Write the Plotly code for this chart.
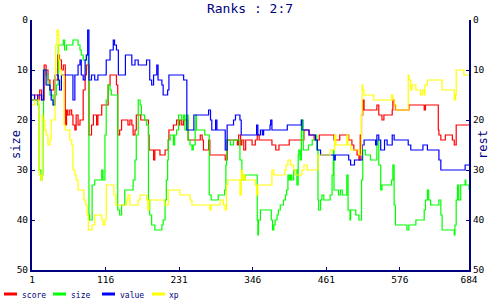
import plotly.graph_objects as go

# ---- data (turn, rank) change points ----
value_x = [1, 5, 10, 16, 19, 23, 29, 31, 34, 37, 42, 44, 47, 63, 65, 68, 73, 76, 78, 81, 84, 86, 88, 90, 94, 99, 104, 117, 123, 128, 130, 133, 136, 147, 151, 157, 162, 167, 180, 185, 188, 191, 196, 198, 204, 206, 213, 215, 238,
           243, 254, 277, 280, 282, 288, 290, 303, 306, 316, 319, 326, 328, 352, 354, 358, 361, 363, 373, 374, 376, 400, 422, 423, 434, 444, 447, 452, 473, 475, 496, 499, 505,
           517, 520, 538, 540, 543, 546, 552, 556, 564, 567, 589, 593, 612, 619, 637, 640, 678, 684]
value_y = [15, 16, 15, 16, 10, 13, 14, 16, 17, 11, 12, 14, 11, 11, 16, 11, 9, 8, 11, 12, 8, 7, 2, 12, 11, 12, 11, 8, 6, 4, 5, 6, 11, 7, 7, 9, 8, 9, 8, 12, 13, 11, 9, 12, 13, 15, 14, 11, 12,
           22, 19, 18, 20, 22, 20, 22, 26, 21, 20, 19, 20, 23, 21, 23, 22, 23, 22, 21, 20, 22, 21, 20, 22, 23, 24, 26, 27, 28, 27, 28, 29, 28,
           25, 24, 25, 23, 24, 26, 24, 25, 23, 24, 25, 26, 25, 26, 28, 30, 29, 29]

score_x = [1, 5, 10, 13, 16, 20, 23, 26, 29, 35, 41, 44, 47, 50, 53, 55, 57, 60, 63, 65, 68, 70, 73, 76, 81, 84, 86, 89, 90, 94, 97, 102, 104, 110, 116, 120, 123, 133, 135, 138, 141, 151, 154, 157, 159, 162, 164, 171,
           183, 184, 191, 193, 201, 209, 214, 215, 222, 227, 230, 232, 235, 238, 245, 258,
           264, 267, 269, 277, 279, 285, 303, 306, 322, 324, 327, 329, 332, 335, 345, 350, 353, 356, 376, 382, 387, 403, 426, 434, 442, 450, 473, 482, 496, 501, 504, 509, 512,
           514, 516, 518, 520, 540, 543, 548, 551, 564, 565, 567, 569, 590, 614, 616, 636, 637, 640, 647, 658, 661, 664, 684]
score_y = [16, 15, 16, 14, 16, 9, 10, 12, 14, 12, 7, 8, 10, 9, 21, 18, 19, 18, 19, 21, 22, 19, 21, 20, 14, 11, 9, 9, 23, 21, 19, 21, 19, 17, 17, 13, 11, 13, 23, 22, 20, 21, 20, 21, 23, 22, 19, 20,
           23, 26, 28, 26, 27, 26, 24, 22, 21, 20, 21, 20, 21, 20, 24, 24,
           23, 24, 26, 24, 27, 27, 28, 24, 25, 23, 25, 24, 26, 24, 25, 24, 23, 24, 25, 26, 25, 24, 22, 23, 24, 23, 24, 23, 24, 25, 26, 27, 28,
           23, 19, 16, 18, 17, 19, 20, 19, 18, 16, 17, 18, 17, 18, 17, 22, 23, 24, 23, 24, 25, 21, 21]

size_x = [1, 10, 12, 15, 17, 18, 19, 23, 26, 29, 34, 37, 39, 42, 50, 52, 55, 65, 73, 76, 78, 81, 86, 89, 90, 91, 95, 99, 110, 112, 115, 117, 120, 123, 125, 135, 138, 141, 146, 159, 162, 164, 167, 170,
          172, 177, 180, 183, 185, 188, 193, 204, 206, 209, 211, 213, 214, 217, 222, 224, 227, 230, 235, 238, 240, 243, 245, 248, 251, 253, 256, 257, 258, 271, 278, 281, 292, 302, 304, 305, 311, 316, 326, 329, 334,
          352, 353, 354, 355, 358, 373, 375, 377, 379, 381, 384, 386, 389, 394, 397, 399, 401, 403, 405, 407, 410, 415, 417, 418, 420, 422, 425, 433, 439, 444, 446, 448, 449, 452, 454, 457, 467, 470, 472, 473, 480, 483, 486, 493, 495, 498, 499, 507, 512,
          516, 518, 522, 530, 540, 543, 546, 548, 563, 565, 567, 569, 587, 590, 601, 614, 616, 619, 621, 624, 637, 640, 642, 661, 662, 664, 666, 668, 671, 678, 679, 684]
size_y = [16, 17, 30, 32, 31, 20, 10, 11, 13, 15, 17, 15, 13, 5, 4, 6, 5, 4, 5, 6, 7, 8, 7, 10, 39, 40, 33, 32, 30, 32, 23, 16, 13, 14, 15, 38, 39, 37, 34, 32, 28, 23, 16, 17,
          19, 20, 21, 36, 39, 41, 42, 41, 40, 36, 32, 28, 24, 23, 25, 23, 22, 19, 20, 19, 22, 19, 24, 25, 26, 25, 22, 19, 22, 23, 35, 36, 35, 34, 29, 24, 25, 24, 28, 32, 31,
          31, 40, 43, 40, 38, 38, 40, 42, 41, 40, 39, 38, 37, 36, 35, 34, 31, 32, 31, 32, 30, 33, 27, 26, 28, 20, 26, 25, 24, 23, 26, 36, 38, 36, 35, 36, 35, 31, 26, 34, 35, 34, 35, 31, 38, 40, 38, 39, 40,
          32, 26, 27, 28, 24, 29, 34, 33, 32, 29, 37, 41, 42, 41, 40, 38, 36, 34, 36, 37, 36, 39, 42, 43, 41, 36, 33, 36, 33, 32, 33, 34]

xp_x = [1, 5, 12, 15, 17, 18, 21, 23, 26, 29, 31, 37, 38, 40, 42, 43, 44, 47, 51, 53, 60, 63, 65, 68, 70, 73, 82, 85, 87, 89, 95, 99, 110, 112, 115, 117, 129, 132, 149, 151, 154, 167,
        170, 180, 182, 184, 208, 214, 232, 248, 251, 279, 281, 295, 300, 303, 305, 307, 326, 328, 330, 332, 334,
        350, 352, 354, 376, 379, 396, 398, 401, 405, 410, 413, 423, 426, 431, 448, 467, 474, 476, 493, 495, 499, 512,
        516, 517, 518, 520, 535, 563, 565, 567, 570, 589, 590, 593, 595, 601, 608, 611, 614, 615, 619, 642, 661, 663, 664, 676, 684]
xp_y = [17, 16, 31, 32, 19, 20, 22, 23, 25, 24, 20, 11, 5, 2, 3, 8, 10, 11, 21, 22, 24, 25, 30, 31, 32, 34, 36, 37, 39, 42, 41, 39, 40, 41, 40, 33, 35, 37, 36, 35, 37, 36,
        35, 36, 38, 36, 37, 34, 35, 36, 37, 38, 37, 36, 37, 38, 33, 32, 35, 30, 32, 31, 32,
        33, 35, 33, 30, 31, 30, 29, 28, 29, 30, 31, 30, 29, 30, 27, 26, 23, 25, 23, 25, 26, 27,
        19, 13, 14, 15, 16, 15, 16, 17, 18, 11, 12, 14, 13, 14, 15, 14, 15, 13, 12, 14, 16, 15, 10, 11, 11]

x_ticks = [1, 116, 231, 346, 461, 576, 684]
y_ticks = [0, 10, 20, 30, 40, 50]

series = [
    ("score", score_x, score_y, "#ff0000", "y"),
    ("size", size_x, size_y, "#00ff00", "y"),
    ("value", value_x, value_y, "#0000ff", "y"),
    ("xp", xp_x, xp_y, "#ffff00", "y2"),
]

NAVY = "#000080"
MONO = "DejaVu Sans Mono"

fig = go.Figure()
for name, xs, ys, col, ax in series:
    fig.add_trace(go.Scatter(x=xs, y=ys, name=name, mode="lines",
                             line=dict(color=col, width=1.2, shape="hv"),
                             yaxis=ax, hoverinfo="skip"))

axis_common = dict(showgrid=False, zeroline=False, showline=True, linecolor=NAVY,
                   linewidth=2, ticks="inside", ticklen=3, tickwidth=1, tickcolor=NAVY,
                   tickfont=dict(family=MONO, size=9.5, color="black"))

fig.update_layout(
    width=500, height=300,
    margin=dict(l=32, r=31, t=20, b=30),
    paper_bgcolor="white", plot_bgcolor="white",
    showlegend=False,
    title=dict(text="Ranks : 2:7", x=0.5, xanchor="center", y=1 - 8 / 300, yref="container",
               yanchor="middle", font=dict(family=MONO, size=13, color=NAVY)),
    xaxis=dict(range=[1, 684], tickvals=x_ticks, ticktext=[str(v) for v in x_ticks], **axis_common),
    yaxis=dict(range=[50, 0], tickvals=y_ticks, **axis_common),
    yaxis2=dict(range=[50, 0], tickvals=y_ticks, overlaying="y", side="right", **axis_common),
)

# axis titles
fig.add_annotation(text="size", xref="paper", yref="paper", x=0, y=0.5, xshift=-25,
                   textangle=-90, showarrow=False, font=dict(family=MONO, size=12, color=NAVY))
fig.add_annotation(text="rest", xref="paper", yref="paper", x=1, y=0.5, xshift=23,
                   textangle=-90, showarrow=False, font=dict(family=MONO, size=12, color=NAVY))

# manual legend below the plot (pixel offsets from the plot's bottom-left corner)
legend_pos = [(4, 20), (53, 69), (102, 118), (152, 167)]
for (name, xs, ys, col, ax), (sw, tx) in zip(series, legend_pos):
    fig.add_shape(type="line", xref="paper", yref="paper", xsizemode="pixel", ysizemode="pixel",
                  xanchor=0, yanchor=0, x0=sw - 32, x1=sw - 32 + 13, y0=-24, y1=-24,
                  line=dict(color=col, width=3))
    fig.add_annotation(text=name, xref="paper", yref="paper", x=0, y=0, xanchor="left",
                       yanchor="middle", xshift=tx - 32, yshift=-25, showarrow=False,
                       font=dict(family=MONO, size=8, color=NAVY))

fig.write_html("out.html")
